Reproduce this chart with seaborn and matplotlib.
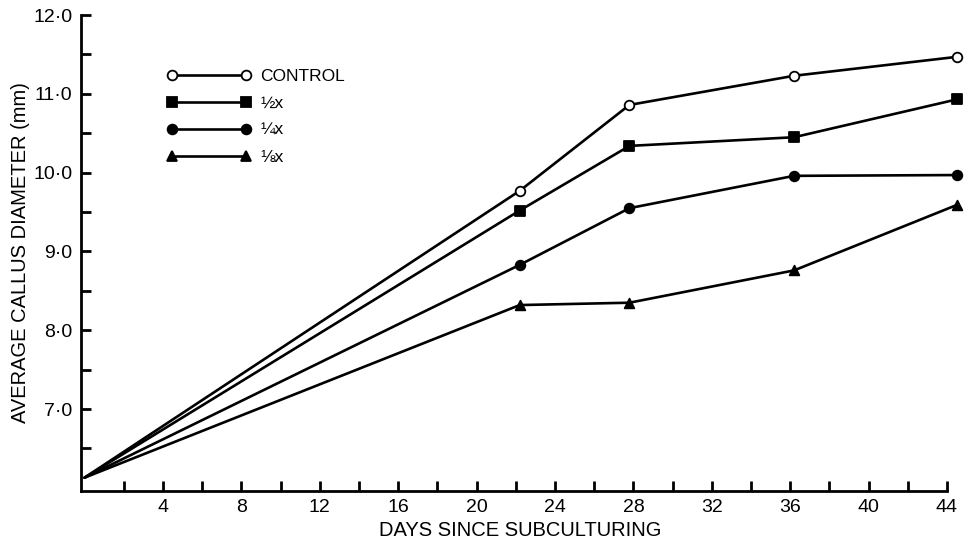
import matplotlib
matplotlib.use("Agg")
import matplotlib.pyplot as plt
from matplotlib.lines import Line2D
import pandas as pd
import seaborn as sns

days = [0, 22.2, 27.8, 36.2, 44.5]
control = [6.13, 9.77, 10.86, 11.23, 11.47]
half_x = [6.13, 9.52, 10.34, 10.45, 10.93]
quarter_x = [6.13, 8.83, 9.55, 9.96, 9.97]
eighth_x = [6.13, 8.32, 8.35, 8.76, 9.59]

treatments = ["CONTROL", "½x", "¼x", "⅛x"]
series = [control, half_x, quarter_x, eighth_x]

rows = []
for name, values in zip(treatments, series):
    for d, v in zip(days, values):
        rows.append({"Days": d, "Diameter": v, "Treatment": name})
data = pd.DataFrame(rows)

sns.set_style("ticks")
plt.rcParams["font.family"] = ["Liberation Sans", "DejaVu Sans"]
plt.rcParams["text.color"] = "black"
plt.rcParams["axes.labelcolor"] = "black"

fig = plt.figure(figsize=(9.65, 5.39), dpi=100)
ax = fig.add_axes([0.0836, 0.089, 0.9099, 0.883])

black = {name: "black" for name in treatments}
marker_map = {"CONTROL": "o", "½x": "s", "¼x": "o", "⅛x": "^"}

sns.lineplot(data=data, x="Days", y="Diameter", hue="Treatment", palette=black,
             linewidth=1.9, legend=False, ax=ax, sort=True)

# markers (no marker at the common starting point)
pts = data[data["Days"] > 0]
for name in treatments:
    sub = pts[pts["Treatment"] == name]
    face = "white" if name == "CONTROL" else "black"
    sns.scatterplot(data=sub, x="Days", y="Diameter", marker=marker_map[name],
                    s=48, color=face, edgecolor="black", linewidth=1.3,
                    legend=False, ax=ax, zorder=5, clip_on=False)

ax.set_xlim(-0.2, 44.6)
ax.set_ylim(5.96, 12.0)
sns.despine(ax=ax)
ax.spines["bottom"].set_bounds(-0.2, 44)
for sp in ["left", "bottom"]:
    ax.spines[sp].set_linewidth(2.0)
    ax.spines[sp].set_color("black")

xticks = list(range(2, 45, 2))
ax.set_xticks(xticks)
ax.set_xticklabels([str(t) if t % 4 == 0 else "" for t in xticks])
yticks = [6.5 + 0.5 * i for i in range(12)]
ax.set_yticks(yticks)
ax.set_yticklabels([f"{t:.1f}".replace(".", "·") if t == int(t) else "" for t in yticks])
ax.tick_params(direction="in", length=7, width=2.0, labelsize=14, colors="black", pad=6)

ax.set_xlabel("DAYS SINCE SUBCULTURING", fontsize=14.5, labelpad=3)
ax.set_ylabel("AVERAGE CALLUS DIAMETER (mm)", fontsize=14.5, labelpad=2)

handles = []
for name in treatments:
    face = "white" if name == "CONTROL" else "black"
    handles.append(Line2D([0], [0], color="black", linewidth=1.9, marker=marker_map[name],
                          markersize=7, markerfacecolor=face, markeredgecolor="black",
                          markeredgewidth=1.3))
leg = ax.legend(handles, treatments, numpoints=2, frameon=False, handlelength=4.9,
                fontsize=12.5, loc="upper left", bbox_to_anchor=(0.088, 0.905),
                labelspacing=0.68, handletextpad=0.5, borderpad=0)
for t in leg.get_texts():
    t.set_color("black")

fig.savefig("out.png", dpi=100)
